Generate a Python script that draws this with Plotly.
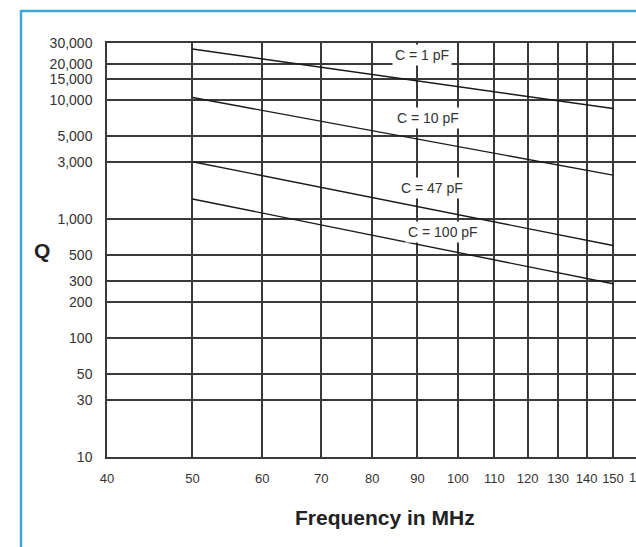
import numpy as np
import plotly.graph_objects as go

# ---- data ----
freq_mhz = [50, 150]
q_1pf = [26700, 8450]
q_10pf = [10450, 2330]
q_47pf = [3020, 597]
q_100pf = [1470, 285]

series_names = ["C = 1 pF", "C = 10 pF", "C = 47 pF", "C = 100 pF"]
series_values = [q_1pf, q_10pf, q_47pf, q_100pf]
# label anchor positions (frequency, Q)
label_freq = [91, 92.6, 93.6, 96.1]
label_q = [23770, 7030, 1817, 776]

x_ticks = [40, 50, 60, 70, 80, 90, 100, 110, 120, 130, 140, 150, 160]
y_ticks = [10, 30, 50, 100, 200, 300, 500, 1000, 3000, 5000, 10000, 15000, 20000, 30000]
y_ticktext = [f"{v:,}" for v in y_ticks]

X_MIN, X_MAX = 40, 159.3
Y_MIN, Y_MAX = 10, 30000

FONT = "Liberation Sans, Arial, Helvetica, sans-serif"
GRID = "#3a3a3a"
TXT = "#333333"
BLUE = "#3aa6dc"

W, H = 636, 547
L, R, T, B = 107, 0, 43, 90
pw, ph = W - L - R, H - T - B

def px_to_paper_x(px):
    return (px - L) / pw

def px_to_paper_y(py):
    return (H - B - py) / ph

fig = go.Figure()
for name, vals in zip(series_names, series_values):
    fig.add_trace(go.Scatter(x=freq_mhz, y=vals, mode="lines", name=name,
                             line=dict(color="#1a1a1a", width=1.4), showlegend=False,
                             hoverinfo="skip"))

annotations = []
for name, fx, qy in zip(series_names, label_freq, label_q):
    annotations.append(dict(x=np.log10(fx), y=np.log10(qy), xref="x", yref="y",
                            xanchor="center", yanchor="middle",
                            text=name, showarrow=False, bgcolor="white", borderpad=2,
                            font=dict(family=FONT, size=14, color=TXT)))

# clipped "160" tick label at right edge
lx0, lx1 = np.log10(X_MIN), np.log10(X_MAX)
annotations.append(dict(x=(np.log10(160) - lx0) / (lx1 - lx0) + 0.004, y=px_to_paper_y(477),
                        xref="paper", yref="paper", xanchor="center", yanchor="middle",
                        text="160", showarrow=False,
                        font=dict(family=FONT, size=13, color=TXT)))
annotations.append(dict(x=px_to_paper_x(385), y=px_to_paper_y(517), xref="paper", yref="paper",
                        xanchor="center", yanchor="middle",
                        text="<b>Frequency in MHz</b>", showarrow=False,
                        font=dict(family=FONT, size=21, color="#222222")))
annotations.append(dict(x=px_to_paper_x(42), y=px_to_paper_y(250), xref="paper", yref="paper",
                        xanchor="center", yanchor="middle",
                        text="<b>Q</b>", showarrow=False,
                        font=dict(family=FONT, size=21, color="#222222")))

shapes = [
    dict(type="line", xref="paper", yref="paper",
         x0=px_to_paper_x(21), x1=px_to_paper_x(W + 5),
         y0=px_to_paper_y(11), y1=px_to_paper_y(11),
         line=dict(color=BLUE, width=2.5)),
    dict(type="line", xref="paper", yref="paper",
         x0=px_to_paper_x(21), x1=px_to_paper_x(21),
         y0=px_to_paper_y(10), y1=px_to_paper_y(H + 5),
         line=dict(color=BLUE, width=2.5)),
]

fig.update_layout(
    width=W, height=H,
    margin=dict(l=L, r=R, t=T, b=B, pad=0, autoexpand=False),
    paper_bgcolor="white", plot_bgcolor="white",
    annotations=annotations, shapes=shapes,
    xaxis=dict(type="log", range=[lx0, lx1], tickvals=x_ticks,
               ticktext=[str(v) for v in x_ticks], tickangle=0,
               showgrid=True, gridcolor=GRID, gridwidth=1.5,
               showline=True, linecolor=GRID, linewidth=1.5, mirror=True,
               ticks="outside", ticklen=9, tickcolor="rgba(0,0,0,0)",
               tickfont=dict(family=FONT, size=13, color=TXT)),
    yaxis=dict(type="log", range=[np.log10(Y_MIN), np.log10(Y_MAX)], tickvals=y_ticks,
               ticktext=y_ticktext,
               showgrid=True, gridcolor=GRID, gridwidth=1.5,
               showline=True, linecolor=GRID, linewidth=1.5,
               ticks="outside", ticklen=10, tickcolor="rgba(0,0,0,0)",
               tickfont=dict(family=FONT, size=14, color=TXT)),
)

fig.write_html("out.html", config={"displayModeBar": False},
               post_script="document.body.style.margin='0';document.body.style.overflow='hidden';")
